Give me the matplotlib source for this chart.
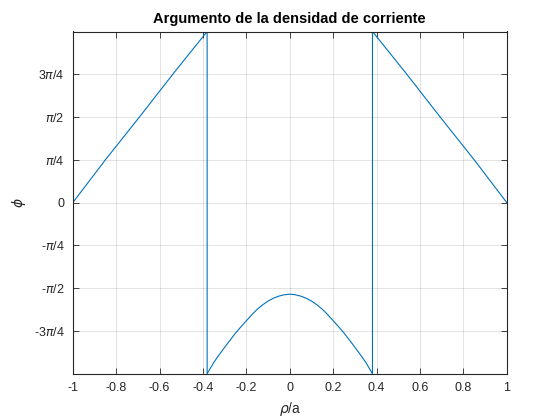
import numpy as np
import matplotlib
matplotlib.use("Agg")
from matplotlib import pyplot as plt

# wrapped phase of the current density, phi in units of pi
rho_left = [-1.0, -0.85, -0.69, -0.535, -0.381]
phi_left = [0.0, 0.25, 0.505, 0.757, 1.0]

# central arc, right half (mirrored below)
rho_arc = [0.0, 0.025, 0.05, 0.075, 0.10, 0.125, 0.15, 0.175, 0.20,
           0.225, 0.25, 0.275, 0.30, 0.325, 0.35, 0.365, 0.381]
phi_arc = [-0.535, -0.538, -0.546, -0.558, -0.575, -0.597, -0.623, -0.655, -0.69,
           -0.725, -0.762, -0.803, -0.845, -0.888, -0.933, -0.965, -1.0]

rho_right = [0.381, 0.535, 0.69, 0.85, 1.0]
phi_right = [1.0, 0.757, 0.505, 0.25, 0.0]

rho_mid = [-r for r in rho_arc[::-1]] + rho_arc[1:]
phi_mid = phi_arc[::-1] + phi_arc[1:]

rho = np.array(rho_left + rho_mid + rho_right)
phi = np.pi * np.array(phi_left + phi_mid + phi_right)

yticks = np.pi * np.array([-0.75, -0.5, -0.25, 0, 0.25, 0.5, 0.75])
ylabels = ["-3$\\pi$/4", "-$\\pi$/2", "-$\\pi$/4", "0", "$\\pi$/4", "$\\pi$/2", "3$\\pi$/4"]
xticks = np.arange(-1, 1.01, 0.2)
xlabels = ["-1", "-0.8", "-0.6", "-0.4", "-0.2", "0", "0.2", "0.4", "0.6", "0.8", "1"]

plt.rcParams["font.family"] = ["Liberation Sans", "DejaVu Sans"]
plt.rcParams["mathtext.fontset"] = "dejavusans"

axc = (0.15, 0.15, 0.15)
fig = plt.figure(figsize=(5.6, 4.2), dpi=100)
ax = fig.add_axes([0.13, 0.11, 0.775, 0.815])
ax.plot(rho, phi, color="#0072BD", lw=0.8)
ax.set_xlim(-1, 1)
ax.set_ylim(-np.pi, np.pi)
ax.set_xticks(xticks)
ax.set_xticklabels(xlabels)
ax.set_yticks(yticks)
ax.set_yticklabels(ylabels)
ax.tick_params(direction="in", top=True, right=True, length=4, width=0.6,
               colors=axc, labelsize=9, labelcolor=axc, pad=6)
for s in ax.spines.values():
    s.set_color(axc)
    s.set_linewidth(0.8)
ax.grid(True, color=axc, alpha=0.15, lw=0.6)
ax.set_title("Argumento de la densidad de corriente", fontsize=10.5, fontweight="bold", pad=6)
ax.set_xlabel("$\\rho$/a", fontsize=10, color=axc)
ax.set_ylabel("$\\phi$", fontsize=10, color=axc)
fig.savefig("out.png", dpi=100)
